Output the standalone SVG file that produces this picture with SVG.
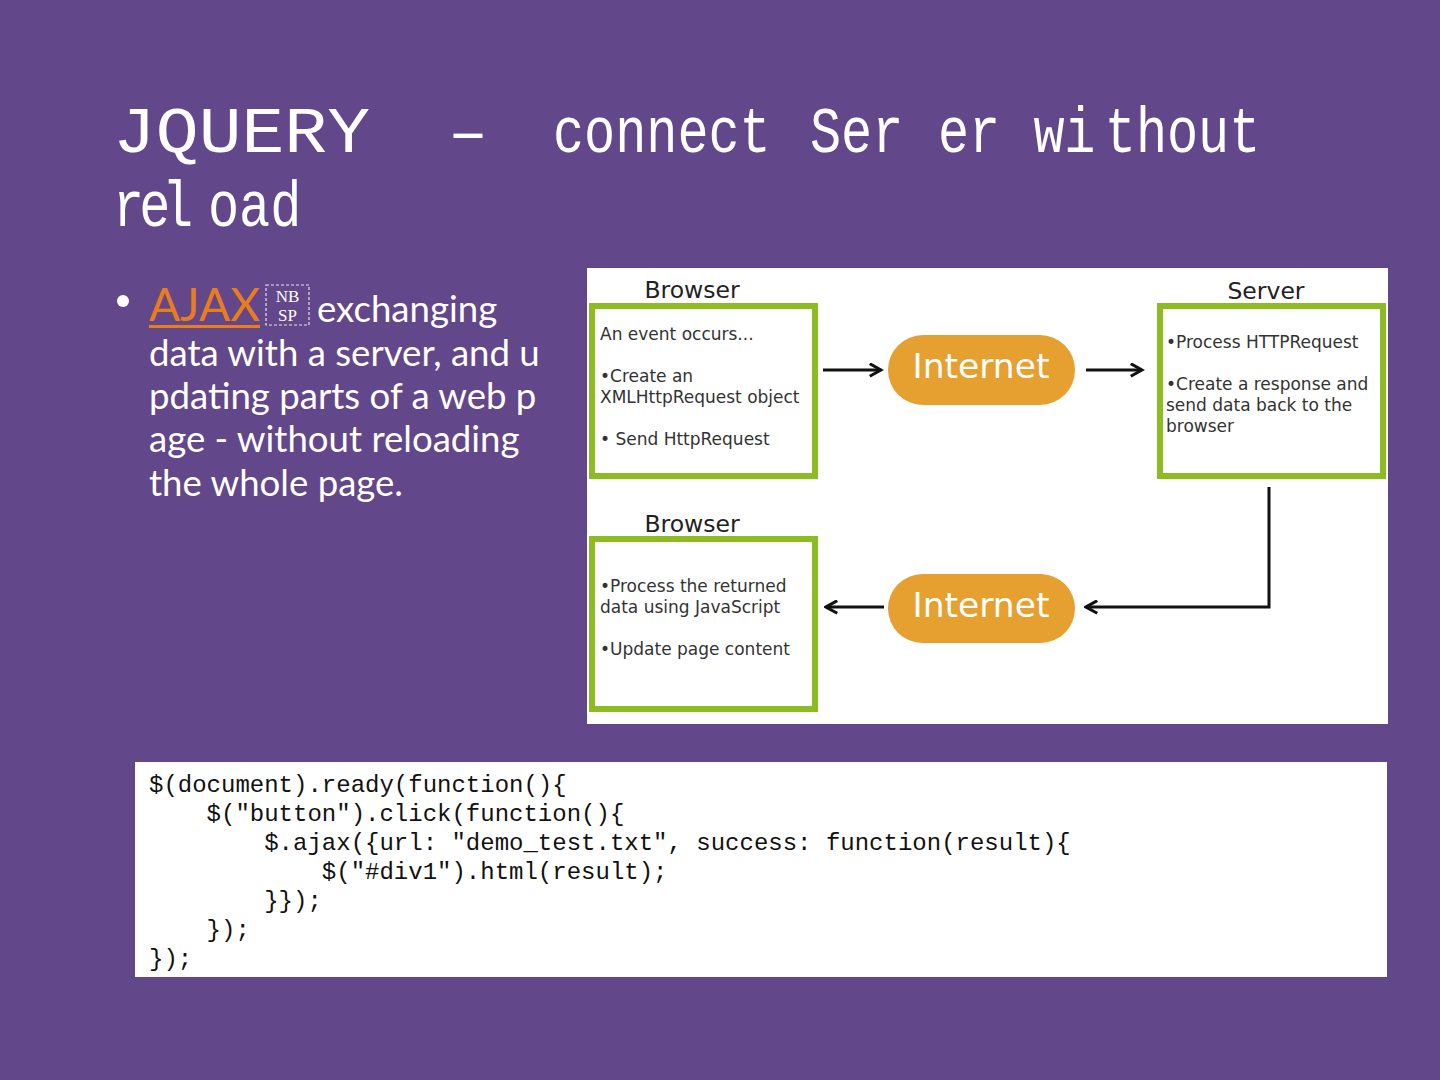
<svg xmlns="http://www.w3.org/2000/svg" width="1440" height="1080" viewBox="0 0 1440 1080">
<style>
.title{font-family:"Liberation Mono",monospace;fill:#ffffff;font-size:64px}
.body{font-family:Lato,"Liberation Sans",sans-serif;fill:#ffffff;font-size:36.6px}
.lbl{font-family:"DejaVu Sans",Verdana,sans-serif;fill:#222222;font-size:23.5px;text-anchor:middle}
.txt{font-family:"DejaVu Sans",Verdana,sans-serif;fill:#333333;font-size:17px}
.box{fill:#ffffff;stroke:#8cbb22;stroke-width:6}
.pill{fill:#e5a030}
.inet{font-family:"DejaVu Sans",Verdana,sans-serif;fill:#ffffff;font-size:34.5px;text-anchor:middle}
.code{font-family:"Liberation Mono",monospace;fill:#111111;font-size:24px}
.conn{fill:none;stroke:#111111;stroke-width:3}
</style>
<defs>
<marker id="ah" viewBox="0 0 12 12" refX="10" refY="6" markerWidth="5" markerHeight="5" orient="auto" markerUnits="strokeWidth">
<path d="M1,1 L10,6 L1,11" fill="none" stroke="#111111" stroke-width="2.5"/>
</marker>
</defs>
<rect width="1440" height="1080" fill="#62478a"/>
<g id="title">
<text class="title" x="113" y="152" textLength="257" lengthAdjust="spacingAndGlyphs">JQUERY</text>
<text class="title" x="448" y="152" textLength="40" lengthAdjust="spacingAndGlyphs">–</text>
<text class="title" transform="scale(0.81,1)" y="152"><tspan x="682.7">connect</tspan><tspan x="1000">Ser</tspan><tspan x="1158">er</tspan><tspan x="1276 1314">wi</tspan><tspan x="1364">thout</tspan></text>
<text class="title" transform="scale(0.81,1)" y="226"><tspan x="139.5 172 200">rel</tspan><tspan x="256.8">oad</tspan></text>
</g>
<g id="bullet">
<circle cx="123" cy="301" r="6" fill="#ffffff"/>
<text x="149" y="321" font-family="Lato,'Liberation Sans',sans-serif" font-size="46" fill="#e87d1e" textLength="111" lengthAdjust="spacingAndGlyphs">AJAX</text>
<rect x="149" y="325" width="111" height="3" fill="#e87d1e"/>
<rect x="266" y="285" width="43" height="40" fill="none" stroke="#e8e0f0" stroke-width="1.2" stroke-dasharray="3,2"/>
<text x="287.5" y="302" font-family="Liberation Serif,serif" font-size="17" fill="#ffffff" text-anchor="middle">NB</text>
<text x="287.5" y="321" font-family="Liberation Serif,serif" font-size="17" fill="#ffffff" text-anchor="middle">SP</text>
<text class="body" x="317" y="322">exchanging</text>
<text class="body" x="149" y="366">data with a server, and u</text>
<text class="body" x="149" y="409">pdating parts of a web p</text>
<text class="body" x="149" y="452">age - without reloading</text>
<text class="body" x="149" y="496">the whole page.</text>
</g>
<rect x="587" y="268" width="801" height="456" fill="#ffffff"/>
<g id="browser1">
<text class="lbl" x="692" y="298">Browser</text>
<rect class="box" x="592" y="306" width="223" height="170"/>
<text class="txt" x="600" y="340">An event occurs...</text>
<text class="txt" x="600" y="382">•Create an</text>
<text class="txt" x="600" y="403">XMLHttpRequest object</text>
<text class="txt" x="600" y="445">• Send HttpRequest</text>
</g>
<g id="internet1">
<rect class="pill" x="888" y="335" width="187" height="70" rx="35"/>
<text class="inet" x="981" y="378">Internet</text>
</g>
<g id="server">
<text class="lbl" x="1266" y="299">Server</text>
<rect class="box" x="1160" y="306" width="223" height="170"/>
<text class="txt" x="1166" y="348">•Process HTTPRequest</text>
<text class="txt" x="1166" y="390">•Create a response and</text>
<text class="txt" x="1166" y="411">send data back to the</text>
<text class="txt" x="1166" y="432">browser</text>
</g>
<g id="browser2">
<text class="lbl" x="692" y="532">Browser</text>
<rect class="box" x="592" y="539" width="223" height="170"/>
<text class="txt" x="600" y="592">•Process the returned</text>
<text class="txt" x="600" y="613">data using JavaScript</text>
<text class="txt" x="600" y="655">•Update page content</text>
</g>
<g id="internet2">
<rect class="pill" x="888" y="574" width="187" height="69" rx="34.5"/>
<text class="inet" x="981" y="617">Internet</text>
</g>
<g id="connectors">
<path class="conn" d="M823,370 H881" marker-end="url(#ah)"/>
<path class="conn" d="M1086,370 H1142" marker-end="url(#ah)"/>
<path class="conn" d="M1269,487 V607 H1086" marker-end="url(#ah)"/>
<path class="conn" d="M884,607 H826" marker-end="url(#ah)"/>
</g>
<g id="code">
<rect x="135" y="762" width="1252" height="215" fill="#ffffff"/>
<text class="code" xml:space="preserve" x="149" y="792">$(document).ready(function(){</text>
<text class="code" xml:space="preserve" x="149" y="821">    $("button").click(function(){</text>
<text class="code" xml:space="preserve" x="149" y="850">        $.ajax({url: "demo_test.txt", success: function(result){</text>
<text class="code" xml:space="preserve" x="149" y="879">            $("#div1").html(result);</text>
<text class="code" xml:space="preserve" x="149" y="908">        }});</text>
<text class="code" xml:space="preserve" x="149" y="937">    });</text>
<text class="code" xml:space="preserve" x="149" y="966">});</text>
</g>
</svg>
